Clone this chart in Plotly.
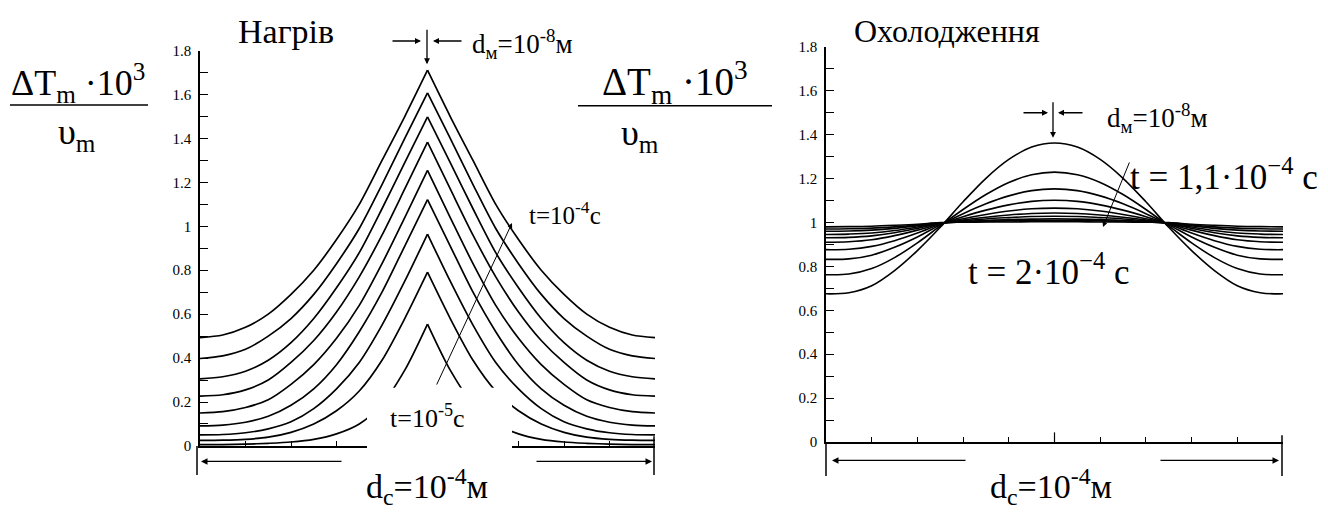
import plotly.graph_objects as go

W, H = 1328, 514
FONT = "Liberation Serif"


def px(p):
    return p / W


def py(p):
    return 1 - p / H


# ---------------- data ----------------
# distance from the centre of the cell (µm), d_c = 1e-4 m -> -50..50 µm
x_half = [0, 5, 10, 15, 20, 25, 30, 35, 40, 45, 50]

# Heating ("Нагрів"): dimensionless temperature from centre to edge, t = 1e-5 ... 1e-4 s
heat_t1 = [1.711, 1.50, 1.30, 1.10, 0.94, 0.80, 0.69, 0.60, 0.54, 0.505, 0.493]
heat_t2 = [1.608, 1.40, 1.19, 0.99, 0.83, 0.69, 0.58, 0.50, 0.44, 0.41, 0.398]
heat_t3 = [1.498, 1.29, 1.08, 0.88, 0.72, 0.58, 0.47, 0.39, 0.34, 0.315, 0.305]
heat_t4 = [1.383, 1.17, 0.96, 0.77, 0.61, 0.48, 0.38, 0.30, 0.255, 0.233, 0.227]
heat_t5 = [1.255, 1.04, 0.83, 0.64, 0.49, 0.37, 0.28, 0.21, 0.175, 0.156, 0.150]
heat_t6 = [1.122, 0.91, 0.70, 0.52, 0.37, 0.26, 0.185, 0.135, 0.108, 0.095, 0.091]
heat_t7 = [0.965, 0.75, 0.55, 0.38, 0.26, 0.17, 0.11, 0.078, 0.06, 0.052, 0.050]
heat_t8 = [0.791, 0.58, 0.39, 0.25, 0.16, 0.10, 0.062, 0.04, 0.03, 0.026, 0.025]
heat_t9 = [0.555, 0.345, 0.19, 0.10, 0.055, 0.03, 0.018, 0.012, 0.008, 0.006, 0.006]
heat_series = [heat_t1, heat_t2, heat_t3, heat_t4, heat_t5,
               heat_t6, heat_t7, heat_t8, heat_t9]

# Cooling ("Охолодження"): t = 1.1e-4 ... 2e-4 s
cool_t1 = [1.362, 1.343, 1.287, 1.201, 1.094, 0.978, 0.872, 0.781, 0.712, 0.680, 0.675]
cool_t2 = [1.229, 1.217, 1.182, 1.127, 1.059, 0.984, 0.907, 0.840, 0.790, 0.765, 0.762]
cool_t3 = [1.153, 1.145, 1.121, 1.085, 1.040, 0.989, 0.934, 0.887, 0.851, 0.834, 0.832]
cool_t4 = [1.101, 1.096, 1.080, 1.056, 1.026, 0.992, 0.952, 0.917, 0.891, 0.878, 0.876]
cool_t5 = [1.065, 1.062, 1.052, 1.036, 1.017, 0.994, 0.965, 0.940, 0.921, 0.912, 0.910]
cool_t6 = [1.043, 1.041, 1.034, 1.024, 1.011, 0.995, 0.973, 0.953, 0.939, 0.932, 0.930]
cool_t7 = [1.028, 1.027, 1.022, 1.016, 1.007, 0.996, 0.979, 0.963, 0.952, 0.947, 0.945]
cool_t8 = [1.016, 1.015, 1.013, 1.009, 1.004, 0.997, 0.985, 0.973, 0.965, 0.961, 0.960]
cool_t9 = [1.009, 1.009, 1.007, 1.005, 1.002, 0.998, 0.988, 0.980, 0.974, 0.971, 0.970]
cool_t10 = [1.003, 1.003, 1.002, 1.002, 1.001, 0.999, 0.992, 0.987, 0.983, 0.981, 0.980]
cool_series = [cool_t1, cool_t2, cool_t3, cool_t4, cool_t5,
               cool_t6, cool_t7, cool_t8, cool_t9, cool_t10]

y_tick_vals = [0, 0.2, 0.4, 0.6, 0.8, 1.0, 1.2, 1.4, 1.6, 1.8]
y_tick_text = ["0", "0.2", "0.4", "0.6", "0.8", "1", "1.2", "1.4", "1.6", "1.8"]
y_minor_vals = [0.1, 0.3, 0.5, 0.7, 0.9, 1.1, 1.3, 1.5, 1.7]
x_tick_vals = [-40, -30, -20, -10, 0, 10, 20, 30, 40]

# ---------------- figure ----------------
fig = go.Figure()

left_x = [-d for d in reversed(x_half)]
for vals in heat_series:
    xs = left_x + [None] + x_half
    ys = list(reversed(vals)) + [None] + vals
    fig.add_trace(go.Scatter(x=xs, y=ys, mode="lines", xaxis="x", yaxis="y",
                             line=dict(color="black", width=1.7, shape="spline",
                                       smoothing=0.8),
                             hoverinfo="skip"))

for vals in cool_series:
    xs = left_x + x_half[1:]
    ys = list(reversed(vals)) + vals[1:]
    fig.add_trace(go.Scatter(x=xs, y=ys, mode="lines", xaxis="x2", yaxis="y2",
                             line=dict(color="black", width=1.6, shape="spline",
                                       smoothing=1.0),
                             hoverinfo="skip"))

yaxis_common = dict(range=[0, 1.8], showgrid=False, zeroline=False,
                    showline=True, linecolor="black", linewidth=1.5,
                    ticks="inside", ticklen=8, tickwidth=1.3, tickcolor="black",
                    tickmode="array", tickvals=y_tick_vals, ticktext=y_tick_text,
                    tickfont=dict(family=FONT, size=15, color="black"),
                    ticklabelstandoff=4,
                    minor=dict(tickmode="array", tickvals=y_minor_vals,
                               ticks="inside", ticklen=8, tickwidth=1.3,
                               tickcolor="black", showgrid=False))
xaxis_common = dict(range=[-50, 50], showgrid=False, zeroline=False,
                    showline=True, linecolor="black", linewidth=2,
                    ticks="inside", ticklen=5, tickwidth=1.2, tickcolor="black",
                    tickmode="array", tickvals=x_tick_vals, showticklabels=False)

fig.update_layout(
    width=W, height=H,
    margin=dict(l=0, r=0, t=0, b=0),
    paper_bgcolor="white", plot_bgcolor="white",
    showlegend=False,
    xaxis=dict(domain=[px(200), px(655)], anchor="y", **xaxis_common),
    yaxis=dict(domain=[py(452), py(44)], anchor="x", **yaxis_common),
    xaxis2=dict(domain=[px(826), px(1283)], anchor="y2", **xaxis_common),
    yaxis2=dict(domain=[py(448), py(40)], anchor="x2", **yaxis_common),
)

shapes = []
# white mask under the "t=10^-5 c" label (heating)
shapes.append(dict(type="rect", xref="paper", yref="paper", layer="above",
                   x0=px(367), x1=px(512), y0=py(462), y1=py(392),
                   fillcolor="white", line=dict(width=0)))
# dimension bars
for (xx, y0, y1) in [(197, 452, 482), (654, 442, 482), (826, 448, 483), (1282, 441, 483)]:
    shapes.append(dict(type="line", xref="paper", yref="paper",
                       x0=px(xx), x1=px(xx), y0=py(y0), y1=py(y1),
                       line=dict(color="black", width=1.5)))
# fraction bars
for (x0, x1, yy) in [(10, 148, 100), (578, 772, 101)]:
    shapes.append(dict(type="line", xref="paper", yref="paper",
                       x0=px(x0), x1=px(x1), y0=py(yy), y1=py(yy),
                       line=dict(color="black", width=1.5)))
# longer centre tick on cooling x axis
shapes.append(dict(type="line", xref="x2", yref="paper", x0=0, x1=0,
                   y0=py(448), y1=py(438), line=dict(color="black", width=1.2)))
fig.update_layout(shapes=shapes)

ann = []


def arrow(head, tail, width=1.3, size=1.0, style=2):
    ann.append(dict(xref="paper", yref="paper", x=px(head[0]), y=py(head[1]),
                    ax=tail[0] - head[0], ay=tail[1] - head[1],
                    axref="pixel", ayref="pixel", text="", showarrow=True,
                    arrowhead=style, arrowsize=size, arrowwidth=width,
                    arrowcolor="black"))


def text(x, y, s, size, anchor="left"):
    ann.append(dict(xref="paper", yref="paper", x=px(x), y=py(y), text=s,
                    showarrow=False, xanchor=anchor, yanchor="middle",
                    font=dict(family=FONT, size=size, color="black")))


# dimension arrows d_c
arrow((201, 468), (343, 468))
arrow((652, 468), (535, 468))
arrow((832, 467), (967, 467))
arrow((1279, 467), (1159, 467))

# d_m markers
arrow((427, 58), (427, 22), width=1.3, size=0.9)
arrow((421, 34), (391, 34), width=1.5, size=0.8)
arrow((433, 34), (463, 34), width=1.5, size=0.8)
arrow((1053, 134), (1053, 97), width=1.3, size=0.9)
arrow((1048, 108), (1022, 108), width=1.5, size=0.8)
arrow((1058, 108), (1084, 108), width=1.5, size=0.8)

# time arrows
arrow((512, 222), (436, 385), width=1.0, size=1.0)
arrow((1103, 226), (1130, 160), width=1.0, size=1.0)

# titles
text(236, 24, "Нагрів", 34)
text(852, 24, "Охолодження", 32)

# axis label fractions
text(78, 77, "ΔT<sub>m</sub> ·10<sup>3</sup>", 36, "center")
text(77, 131, "υ<sub>m</sub>", 36, "center")
text(675, 77, "ΔT<sub>m</sub> ·10<sup>3</sup>", 39, "center")
text(640, 132, "υ<sub>m</sub>", 36, "center")

# annotations inside panels
text(470, 37, "d<sub>м</sub>=10<sup>-8</sup>м", 27)
text(1105, 114, "d<sub>м</sub>=10<sup>-8</sup>м", 27)
text(527, 212, "t=10<sup>-4</sup>с", 25)
text(427, 422, "t=10<sup>-5</sup>с", 26, "center")
text(1128, 172, "t = 1,1·10<sup>−4</sup> с", 35)
text(966, 270, "t = 2·10<sup>−4</sup> с", 35)

# d_c labels
text(427, 494, "d<sub>c</sub>=10<sup>-4</sup>м", 34, "center")
text(1051, 494, "d<sub>c</sub>=10<sup>-4</sup>м", 34, "center")

fig.update_layout(annotations=ann)

fig.write_html("out.html")
